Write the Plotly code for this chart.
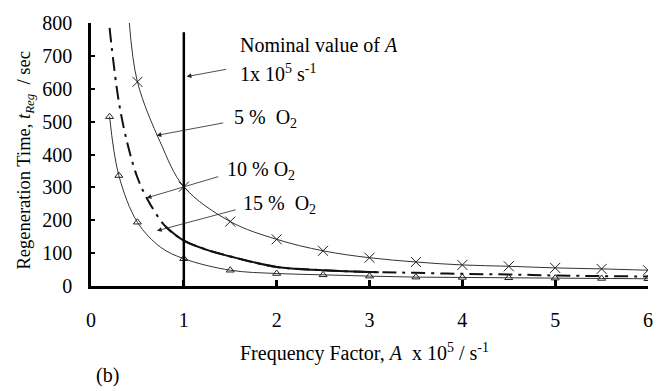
import plotly.graph_objects as go

# ---- data ----
o2_5_curve_x = [0.41, 0.5, 0.75, 1.0, 1.5, 2.0, 2.5, 3.0, 3.5, 4.0, 4.5, 5.0, 5.5, 6.0]
o2_5_curve_y = [810, 621, 435, 302, 196, 142, 107, 86, 73, 64, 60, 55, 52, 48]
o2_5_mark_x = [0.5, 1.0, 1.5, 2.0, 2.5, 3.0, 3.5, 4.0, 4.5, 5.0, 5.5, 6.0]
o2_5_mark_y = [621, 302, 196, 142, 107, 86, 73, 64, 60, 55, 52, 48]

o2_10_x = [0.2, 0.3, 0.4, 0.5, 0.6, 0.8, 1.0, 1.25, 1.5, 2.0, 2.5, 3.1, 3.5, 4.0, 4.5, 5.0, 5.5, 6.0]
o2_10_y = [785, 560, 425, 330, 268, 182, 138, 110, 90, 58, 48, 42, 40, 37, 35, 32, 30, 29]
o2_10_solid_from = 0.8
o2_10_solid_to = 3.1

o2_15_curve_x = [0.2, 0.3, 0.5, 0.75, 1.0, 1.5, 2.0, 2.5, 3.0, 3.5, 4.0, 4.5, 5.0, 5.5, 6.0]
o2_15_curve_y = [515, 336, 194, 118, 83, 48, 38, 34, 30, 27, 26, 25, 24, 23, 22]
o2_15_mark_x = [0.2, 0.3, 0.5, 1.0, 1.5, 2.0, 2.5, 3.0, 3.5, 4.0, 4.5, 5.0, 5.5, 6.0]
o2_15_mark_y = [515, 336, 194, 83, 48, 38, 34, 30, 27, 26, 25, 24, 23, 22]

nominal_A = 1.0
nominal_top = 772

x_ticks = [0, 1, 2, 3, 4, 5, 6]
y_ticks = [0, 100, 200, 300, 400, 500, 600, 700, 800]

FONT = "Liberation Serif"
FS = 20

fig = go.Figure()

# 5 % O2
fig.add_trace(go.Scatter(x=o2_5_curve_x, y=o2_5_curve_y, mode="lines",
                         line=dict(color="#333333", width=1, shape="spline"),
                         showlegend=False, hoverinfo="skip"))
fig.add_trace(go.Scatter(x=o2_5_mark_x, y=o2_5_mark_y, mode="markers",
                         marker=dict(symbol="x-thin", size=10, line=dict(color="#222222", width=1)),
                         showlegend=False))

# 10 % O2 (dash-dot with solid middle section)
fig.add_trace(go.Scatter(x=o2_10_x, y=o2_10_y, mode="lines",
                         line=dict(color="#111111", width=2, shape="spline", dash="14px,6px,3px,6px"),
                         showlegend=False))
sx = [x for x in o2_10_x if o2_10_solid_from <= x <= o2_10_solid_to]
sy = [y for x, y in zip(o2_10_x, o2_10_y) if o2_10_solid_from <= x <= o2_10_solid_to]
fig.add_trace(go.Scatter(x=sx, y=sy, mode="lines",
                         line=dict(color="#111111", width=2, shape="spline"),
                         showlegend=False))

# 15 % O2
fig.add_trace(go.Scatter(x=o2_15_curve_x, y=o2_15_curve_y, mode="lines",
                         line=dict(color="#333333", width=1, shape="spline"),
                         showlegend=False))
fig.add_trace(go.Scatter(x=o2_15_mark_x, y=o2_15_mark_y, mode="markers",
                         marker=dict(symbol="triangle-up-open", size=7, color="#222222",
                                     line=dict(width=1)),
                         showlegend=False))

# nominal value line
fig.add_trace(go.Scatter(x=[nominal_A, nominal_A], y=[0, nominal_top], mode="lines",
                         line=dict(color="black", width=2.5), showlegend=False))

tf = dict(family=FONT, size=FS, color="black")

def label(x, y, text):
    fig.add_annotation(x=x, y=y, xref="x", yref="y", text=text, showarrow=False,
                       xanchor="left", yanchor="middle", font=tf)

def arrow(xh, yh, xt, yt):
    fig.add_annotation(x=xh, y=yh, ax=xt, ay=yt, xref="x", yref="y", axref="x", ayref="y",
                       text="", showarrow=True, arrowhead=2, arrowsize=1.2,
                       arrowwidth=0.8, arrowcolor="#222222", standoff=0)

label(1.58, 734, "Nominal value of <i>A</i>")
label(1.58, 649, "1x 10<sup>5</sup> s<sup>-1</sup>")
label(1.516, 510, "5 %&nbsp; O<sub>2</sub>")
label(1.441, 350, "10 % O<sub>2</sub>")
label(1.613, 247, "15 %&nbsp; O<sub>2</sub>")

arrow(1.03, 637, 1.473, 660)
arrow(0.706, 458, 1.441, 497)
arrow(0.599, 268, 1.387, 334)
arrow(0.71, 168, 1.573, 233)

fig.add_annotation(x=0.491, y=-0.251, xref="paper", yref="paper", showarrow=False,
                   text="Frequency Factor, <i>A</i>&nbsp; x 10<sup>5</sup> / s<sup>-1</sup>",
                   font=tf, xanchor="center", yanchor="middle")
fig.add_annotation(x=-0.118, y=0.478, xref="paper", yref="paper", showarrow=False,
                   text="Regeneration Time, <i>t<sub>Reg</sub></i>&nbsp; / sec",
                   font=dict(family=FONT, size=18.5, color="black"),
                   textangle=-90, xanchor="center", yanchor="middle")
fig.add_annotation(x=0.03, y=-0.339, xref="paper", yref="paper", showarrow=False,
                   text="(b)", font=tf, xanchor="center", yanchor="middle")

fig.update_layout(
    width=665, height=391,
    margin=dict(l=91, r=16, t=15, b=105),
    plot_bgcolor="white", paper_bgcolor="white",
    font=tf,
    showlegend=False,
)
fig.update_xaxes(range=[0, 6], tickvals=x_ticks, ticktext=[str(v) for v in x_ticks],
                 showline=True, linecolor="black", linewidth=2.5,
                 ticks="inside", ticklen=6, tickwidth=2.5, tickcolor="black",
                 showgrid=False, zeroline=False, ticklabelstandoff=14,
                 tickfont=tf)
fig.update_yaxes(range=[0, 800], tickvals=y_ticks, ticktext=[str(v) for v in y_ticks],
                 showline=True, linecolor="black", linewidth=2.5,
                 ticks="inside", ticklen=4, tickwidth=1.5, tickcolor="black",
                 showgrid=False, zeroline=False, ticklabelstandoff=12,
                 tickfont=tf)

fig.write_html("out.html")
